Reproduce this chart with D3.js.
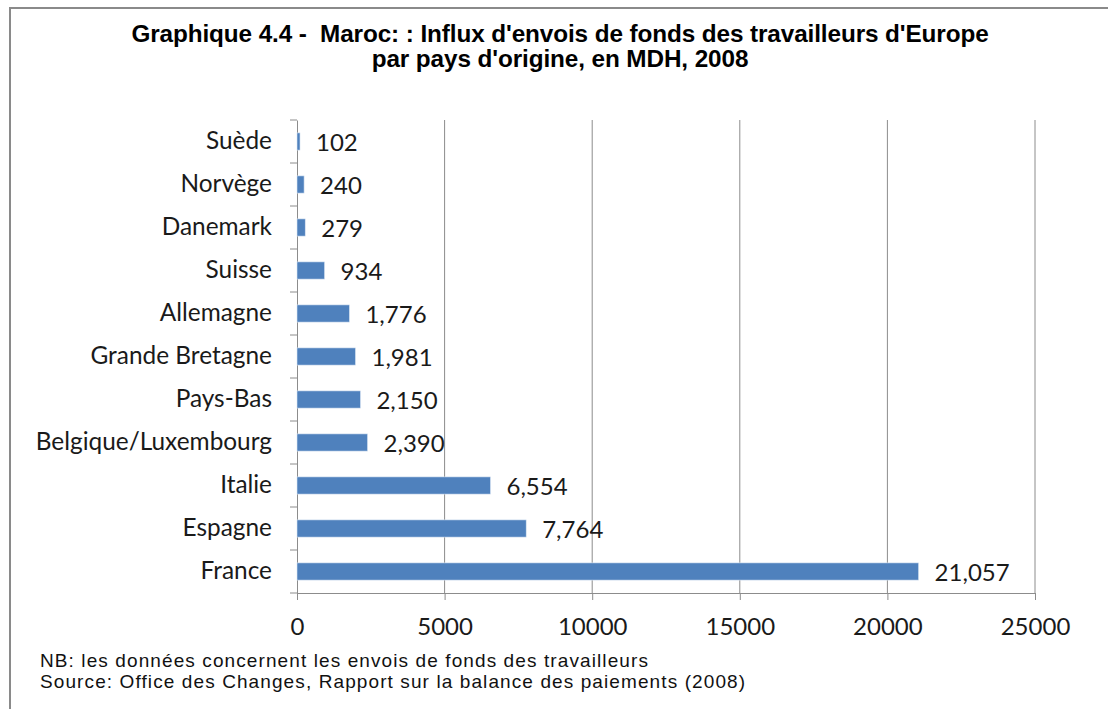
<!DOCTYPE html>
<html><head><meta charset="utf-8">
<script src="https://cdn.jsdelivr.net/npm/d3@7"></script>
<style>body{margin:0;background:#fff;} svg{display:block;} .pre{white-space:pre;}</style>
</head><body>
<svg id="c" width="1108" height="709"></svg>
<script>
const categories = ["Suède","Norvège","Danemark","Suisse","Allemagne","Grande Bretagne","Pays-Bas","Belgique/Luxembourg","Italie","Espagne","France"];
const values = [102,240,279,934,1776,1981,2150,2390,6554,7764,21057];
const xTicks = [0,5000,10000,15000,20000,25000];
const titleLines = ["Graphique 4.4 -  Maroc: : Influx d'envois de fonds des travailleurs d'Europe","par pays d'origine, en MDH, 2008"];
const notes = ["NB: les données concernent les envois de fonds des travailleurs","Source: Office des Changes, Rapport sur la balance des paiements (2008)"];

const svg = d3.select("#c");
const W = 1108, H = 709;
const m = {left:297, right:1035, top:120, bottom:593};
const labelFont = "Lato, 'Open Sans', sans-serif";
const textCol = "#1a1a1a";

svg.append("rect").attr("x",0).attr("y",0).attr("width",W).attr("height",H).attr("fill","#fff");
svg.append("rect").attr("x",10).attr("y",8).attr("width",W+20).attr("height",H+20)
  .attr("fill","#fff").attr("stroke","#8a8a8a").attr("stroke-width",2);

const x = d3.scaleLinear().domain([0,25000]).range([m.left,m.right]);
const y = d3.scaleBand().domain(categories).range([m.top,m.bottom]).paddingInner(0.6).paddingOuter(0.3);

// gridlines
svg.append("g").selectAll("line").data(xTicks.slice(1)).join("line")
  .attr("x1",d=>x(d)).attr("x2",d=>x(d)).attr("y1",m.top).attr("y2",m.bottom)
  .attr("stroke","#8c8c8c").attr("stroke-width",1);

// x axis
const xa = svg.append("g").attr("transform",`translate(0,${m.bottom})`)
  .call(d3.axisBottom(x).tickValues(xTicks).tickFormat(d3.format("d")).tickSizeInner(7).tickSizeOuter(0).tickPadding(18));
xa.select(".domain").attr("stroke","#8c8c8c");
xa.selectAll(".tick line").attr("stroke","#8c8c8c");
xa.selectAll("text").attr("font-family",labelFont).attr("font-size",24).attr("fill",textCol);

// y axis
const yb = d3.scaleBand().domain(categories).range([m.top,m.bottom]);
const ya = svg.append("g").attr("transform",`translate(${m.left},0)`)
  .call(d3.axisLeft(yb).tickSize(0).tickPadding(25));
ya.select(".domain").attr("stroke","#8c8c8c");
ya.selectAll("text").attr("font-family",labelFont).attr("font-size",24.4).attr("fill",textCol);
// category separator ticks
const bounds = categories.map(c=>yb(c)).concat([m.bottom]);
svg.append("g").selectAll("line").data(bounds).join("line")
  .attr("x1",m.left-7).attr("x2",m.left).attr("y1",d=>d).attr("y2",d=>d)
  .attr("stroke","#8c8c8c");

// bars
svg.append("g").selectAll("rect").data(values).join("rect")
  .attr("x",x(0)).attr("y",(d,i)=>y(categories[i]))
  .attr("width",d=>x(d)-x(0)).attr("height",y.bandwidth())
  .attr("fill","#4f81bd").attr("stroke","#dbe6f3").attr("stroke-width",0.6);

// value labels
const fmt = d3.format(",");
svg.append("g").selectAll("text").data(values).join("text")
  .attr("x",d=>x(d)+16).attr("y",(d,i)=>y(categories[i])+y.bandwidth()/2)
  .attr("dy","0.4em")
  .attr("font-family",labelFont).attr("font-size",24).attr("fill",textCol)
  .text(d=>fmt(d));

// title
svg.append("g").selectAll("text").data(titleLines).join("text")
  .attr("class","pre")
  .attr("x",560).attr("y",(d,i)=>42+i*25).attr("text-anchor","middle")
  .attr("font-family","'Liberation Sans', Arial, sans-serif")
  .attr("font-weight","bold").attr("font-size",24.3).attr("fill","#000")
  .attr("letter-spacing",-0.1)
  .text(d=>d);

// notes
svg.append("g").selectAll("text").data(notes).join("text")
  .attr("x",40).attr("y",(d,i)=>667+i*21)
  .attr("font-family","'Liberation Sans', Arial, sans-serif")
  .attr("font-size",19).attr("letter-spacing",1.1).attr("fill","#111")
  .text(d=>d);
</script>
</body></html>
